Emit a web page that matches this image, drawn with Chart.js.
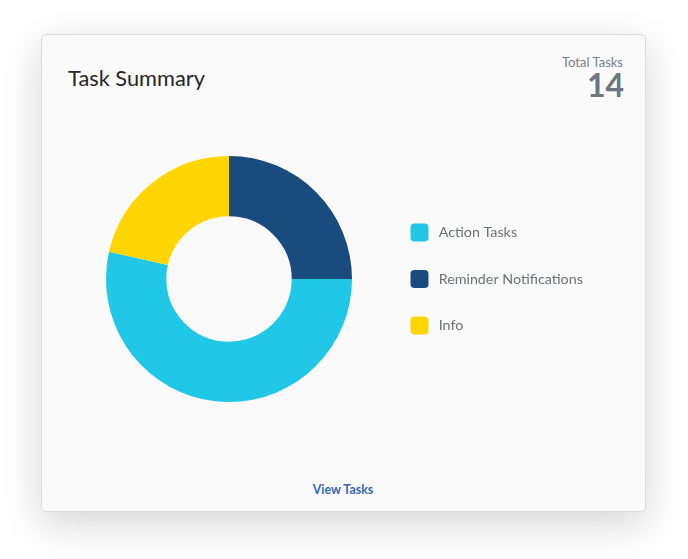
<!DOCTYPE html>
<html>
<head>
<meta charset="utf-8">
<script src="https://cdn.jsdelivr.net/npm/chart.js@4.4.1/dist/chart.umd.min.js"></script>
<style>
  html, body { margin:0; padding:0; background:#ffffff; width:688px; height:559px; overflow:hidden; font-family:Lato, "Open Sans", sans-serif; }
  .card { position:absolute; left:41px; top:34px; width:603px; height:476px; background:#fafafa; border:1px solid #dcdcdc; border-radius:5px; box-shadow:0 12px 40px rgba(0,0,0,0.17); }
  .title { position:absolute; left:68px; top:65px; font-size:21.8px; line-height:1.2; color:#262626; white-space:nowrap; }
  .total-label { position:absolute; right:65px; top:54.5px; font-size:13px; line-height:1.2; color:#7a7f87; white-space:nowrap; text-align:right; }
  .total-value { position:absolute; right:64px; top:66px; font-size:32px; line-height:1.2; color:#6d7580; font-weight:700; white-space:nowrap; text-align:right; }
  .view { position:absolute; left:0; width:686px; text-align:center; top:483px; font-size:12.4px; line-height:1.2; font-weight:700; color:#3068b8; }
  .chartbox { position:absolute; left:73px; top:156px; width:542px; height:246px; }
</style>
</head>
<body>
<div class="card"></div>
<div class="title">Task Summary</div>
<div class="total-label">Total Tasks</div>
<div class="total-value">14</div>
<div class="chartbox"><canvas id="c"></canvas></div>
<div class="view">View Tasks</div>
<script>
// Data (drawing order starts at 12 o'clock, clockwise)
const categories = ['Reminder Notifications', 'Action Tasks', 'Info'];
const values = [3.5, 7.5, 3];
const colors = ['#1a4b7f', '#21c7e6', '#ffd500'];
const legendOrder = ['Action Tasks', 'Reminder Notifications', 'Info'];

const LEGEND_W = 230;
const legendWidthPlugin = {
  id: 'legendWidth',
  beforeLayout(chart) {
    const lg = chart.legend;
    if (lg && !lg._patched) {
      const orig = lg.fit.bind(lg);
      lg.fit = function () { orig(); this.width = LEGEND_W; };
      lg._patched = true;
    }
  }
};

Chart.defaults.font.family = 'Lato, "Open Sans", sans-serif';

new Chart(document.getElementById('c'), {
  type: 'doughnut',
  data: {
    labels: categories,
    datasets: [{
      data: values,
      backgroundColor: colors,
      borderWidth: 0,
      hoverOffset: 0,
      offset: 0
    }]
  },
  options: {
    responsive: true,
    maintainAspectRatio: false,
    animation: false,
    events: [],
    cutout: '51%',
    layout: { padding: { left: 0, right: 0, top: 0, bottom: 0 } },
    plugins: {
      tooltip: { enabled: false },
      legend: {
        position: 'right',
        align: 'center',
        labels: {
          boxWidth: 24,
          boxHeight: 24,
          padding: 22.5,
          color: '#6b7079',
          font: { size: 14.3, family: 'Lato' },
          generateLabels: () => legendOrder.map(name => {
            const i = categories.indexOf(name);
            return {
              text: name,
              fillStyle: colors[i],
              strokeStyle: '#fafafa',
              lineWidth: 6,
              borderRadius: 7,
              hidden: false,
              index: i,
              datasetIndex: 0,
              fontColor: '#6b7079'
            };
          })
        }
      }
    }
  },
  plugins: [legendWidthPlugin]
});
</script>
</body>
</html>
